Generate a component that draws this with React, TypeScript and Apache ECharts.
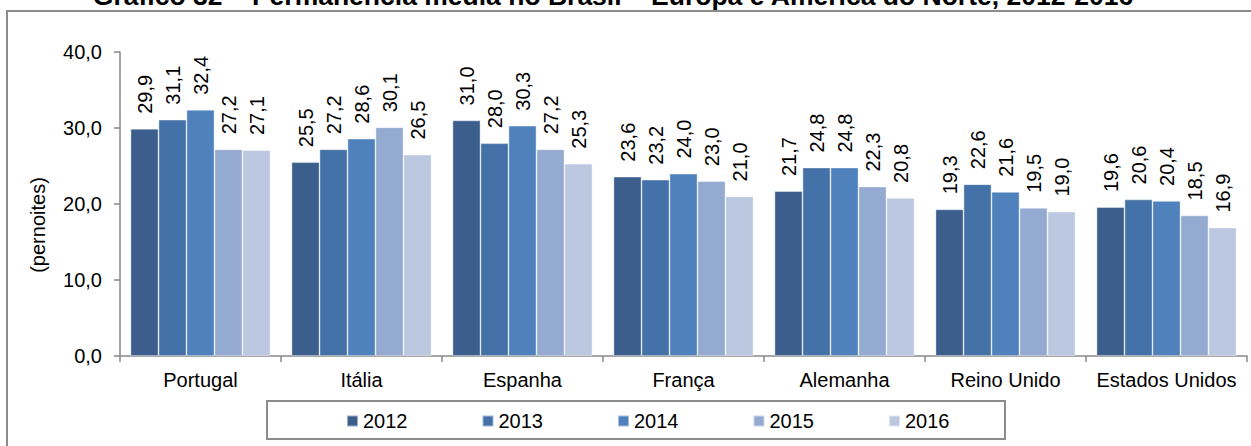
import React, { useEffect, useRef } from "react";
import * as echarts from "echarts";

const categories = ["Portugal", "Itália", "Espanha", "França", "Alemanha", "Reino Unido", "Estados Unidos"];
const years = ["2012", "2013", "2014", "2015", "2016"];
const values2012 = [29.9, 25.5, 31.0, 23.6, 21.7, 19.3, 19.6];
const values2013 = [31.1, 27.2, 28.0, 23.2, 24.8, 22.6, 20.6];
const values2014 = [32.4, 28.6, 30.3, 24.0, 24.8, 21.6, 20.4];
const values2015 = [27.2, 30.1, 27.2, 23.0, 22.3, 19.5, 18.5];
const values2016 = [27.1, 26.5, 25.3, 21.0, 20.8, 19.0, 16.9];
const seriesValues = [values2012, values2013, values2014, values2015, values2016];
const colors = ["#3B5E8C", "#4472A8", "#4F81BD", "#95AAD0", "#BCC8E0"];
const titleText = "Gráfico 32 – Permanência média no Brasil – Europa e América do Norte, 2012-2016";
const yAxisName = "(pernoites)";

const FONT = "'Liberation Sans', Arial, sans-serif";
const fmt = (v: number) => v.toFixed(1).replace(".", ",");

export default function App() {
  const ref = useRef<HTMLDivElement>(null);
  useEffect(() => {
    if (!ref.current) return;
    const chart = echarts.init(ref.current, undefined, { renderer: "svg" });
    chart.setOption({
      animation: false,
      backgroundColor: "#ffffff",
      textStyle: { fontFamily: FONT },
      grid: { left: 120, right: 4, top: 52, bottom: 90, containLabel: false },
      legend: {
        data: years,
        left: 341,
        top: 406,
        padding: 5,
        itemWidth: 11,
        itemHeight: 11,
        itemGap: 74,
        icon: "rect",
        textStyle: { fontFamily: FONT, fontSize: 20, color: "#000" },
      },
      xAxis: {
        type: "category",
        data: categories,
        axisLine: { lineStyle: { color: "#898989", width: 1.5 } },
        axisTick: { show: true, length: 6, lineStyle: { color: "#898989", width: 1.5 } },
        axisLabel: { fontFamily: FONT, fontSize: 20, color: "#000", margin: 14, interval: 0 },
      },
      yAxis: {
        type: "value",
        min: 0,
        max: 40,
        interval: 10,
        axisLine: { show: true, lineStyle: { color: "#898989", width: 1.5 } },
        axisTick: { show: true, length: 6, lineStyle: { color: "#898989", width: 1.5 } },
        splitLine: { show: false },
        axisLabel: { fontFamily: FONT, fontSize: 20, color: "#000", margin: 18, formatter: (v: number) => fmt(v) },
      },
      graphic: [
        {
          type: "rect",
          silent: true,
          shape: { x: 7, y: 11, width: 1300, height: 500 },
          style: { fill: "none", stroke: "#8c8c8c", lineWidth: 2 },
          z: -1,
        },
        {
          type: "rect",
          silent: true,
          shape: { x: 267, y: 401, width: 738, height: 38 },
          style: { fill: "none", stroke: "#8c8c8c", lineWidth: 2 },
        },
        {
          type: "text",
          x: 613,
          y: 9,
          style: {
            text: titleText,
            font: `bold 26.5px ${FONT}`,
            fill: "#000",
            align: "center",
            verticalAlign: "bottom",
          },
        },
        {
          type: "text",
          x: 38,
          y: 225,
          rotation: Math.PI / 2,
          style: {
            text: yAxisName,
            font: `20px ${FONT}`,
            fill: "#000",
            align: "center",
            verticalAlign: "middle",
          },
        },
      ],
      series: years.map((y, i) => ({
        name: y,
        type: "bar",
        data: seriesValues[i],
        barWidth: 28,
        barGap: "0%",
        itemStyle: { color: colors[i], borderColor: "rgba(255,255,255,0.5)", borderWidth: 0.8 },
        label: {
          show: true,
          position: "top",
          rotate: 90,
          align: "left",
          verticalAlign: "middle",
          distance: 15,
          fontFamily: FONT,
          fontSize: 20,
          color: "#000",
          formatter: (p: any) => fmt(p.value),
        },
      })),
    });
    return () => chart.dispose();
  }, []);
  return <div ref={ref} style={{ position: "fixed", left: 0, top: 0, width: 1251, height: 446 }} />;
}
